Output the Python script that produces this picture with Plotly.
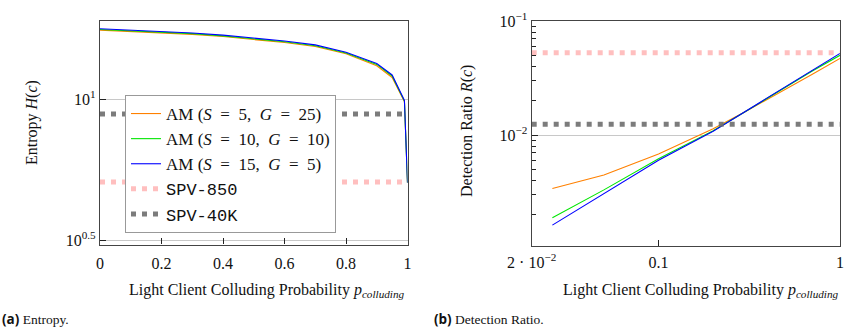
import plotly.graph_objects as go

# ---------------- data ----------------
# (a) Entropy
p_entropy = [0.0, 0.1, 0.2, 0.3, 0.4, 0.5, 0.6, 0.7, 0.8, 0.9, 0.95, 0.99, 1.0]
H_s5_g25 = [17.6, 17.4, 17.25, 17.0, 16.7, 16.3, 15.9, 15.4, 14.5, 13.15, 11.95, 9.8, 5.05]
H_s10_g10 = [17.7, 17.5, 17.38, 17.1, 16.8, 16.4, 16.0, 15.5, 14.6, 13.3, 12.1, 9.85, 5.05]
H_s15_g5 = [17.8, 17.6, 17.45, 17.2, 16.9, 16.5, 16.1, 15.6, 14.7, 13.4, 12.2, 9.9, 5.05]
H_spv850 = 5.08
H_spv40k = 8.87

# (b) Detection ratio
p_detect = [0.026, 0.05, 0.1, 0.2, 0.3, 0.5, 0.7, 1.0]
R_s5_g25 = [3.4e-3, 4.45e-3, 6.8e-3, 1.135e-2, 1.6e-2, 2.5e-2, 3.4e-2, 4.7e-2]
R_s10_g10 = [1.88e-3, 3.3e-3, 6.2e-3, 1.09e-2, 1.6e-2, 2.62e-2, 3.62e-2, 5.0e-2]
R_s15_g5 = [1.62e-3, 3.05e-3, 6.0e-3, 1.08e-2, 1.61e-2, 2.66e-2, 3.72e-2, 5.2e-2]
R_spv850 = 0.0527
R_spv40k = 0.0124

series_names = ["AM&nbsp;(<i>S</i>&nbsp;&nbsp;=&nbsp;&nbsp;5,&nbsp;&nbsp;<i>G</i>&nbsp;&nbsp;=&nbsp;&nbsp;25)",
                "AM&nbsp;(<i>S</i>&nbsp;&nbsp;=&nbsp;&nbsp;10,&nbsp;&nbsp;<i>G</i>&nbsp;&nbsp;=&nbsp;&nbsp;10)",
                "AM&nbsp;(<i>S</i>&nbsp;&nbsp;=&nbsp;&nbsp;15,&nbsp;&nbsp;<i>G</i>&nbsp;&nbsp;=&nbsp;&nbsp;5)"]
spv_names = ["SPV-850", "SPV-40K"]

left_xticks = [0, 0.2, 0.4, 0.6, 0.8, 1]
left_xticktext = ["0", "0.2", "0.4", "0.6", "0.8", "1"]
left_yticks = [10 ** 0.5, 10]
left_yticktext = ["10<sup>0.5</sup>", "10<sup>1</sup>"]
right_xticks = [0.02, 0.1, 1]
right_xticktext = ["2 · 10<sup>−2</sup>", "0.1", "1"]
right_yticks = [0.01, 0.1]
right_yticktext = ["10<sup>−2</sup>", "10<sup>−1</sup>"]
right_yminor = [2e-3, 3e-3, 4e-3, 5e-3, 6e-3, 7e-3, 8e-3, 9e-3,
                2e-2, 3e-2, 4e-2, 5e-2, 6e-2, 7e-2, 8e-2, 9e-2]

# ---------------- styling ----------------
W, H = 850, 328
SERIF = "Liberation Serif"
MONO = "Liberation Mono"
colors = ["rgb(255,128,0)", "rgb(0,230,0)", "rgb(0,0,255)"]
spv_colors = ["rgba(255,170,170,0.75)", "rgba(110,110,110,0.9)"]
DOT = "5px,6px"


def px_x(px):
    return px / W


def px_y(py):
    return 1 - py / H


fig = go.Figure()

# left panel
xs_full = [p_entropy[0], p_entropy[-1]]
for vals, name, c in zip([H_s5_g25, H_s10_g10, H_s15_g5], series_names, colors):
    fig.add_trace(go.Scatter(x=p_entropy, y=vals, mode="lines", name=name,
                             line=dict(color=c, width=1.1), xaxis="x", yaxis="y"))
for val, name, c in zip([H_spv850, H_spv40k], spv_names, spv_colors):
    fig.add_trace(go.Scatter(x=xs_full, y=[val, val], mode="lines",
                             name=f"<span style=\"font-family:{MONO}\">{name}</span>",
                             line=dict(color=c, width=5, dash=DOT), xaxis="x", yaxis="y"))

# right panel
for vals, name, c in zip([R_s5_g25, R_s10_g10, R_s15_g5], series_names, colors):
    fig.add_trace(go.Scatter(x=p_detect, y=vals, mode="lines", name=name, showlegend=False,
                             line=dict(color=c, width=1.1), xaxis="x2", yaxis="y2"))
for val, name, c in zip([R_spv850, R_spv40k], spv_names, spv_colors):
    fig.add_trace(go.Scatter(x=[0.02, 1.0], y=[val, val], mode="lines", name=name, showlegend=False,
                             line=dict(color=c, width=5, dash=DOT), xaxis="x2", yaxis="y2"))

axis_common = dict(showline=True, linecolor="#444", linewidth=1.2, mirror=True,
                   ticks="inside", ticklen=6, tickcolor="#222", tickwidth=1,
                   tickfont=dict(family=SERIF, size=16, color="#111"),
                   zeroline=False, tickmode="array", automargin=False)

fig.update_layout(
    width=W, height=H,
    margin=dict(l=0, r=0, t=0, b=0, pad=0, autoexpand=False),
    paper_bgcolor="white", plot_bgcolor="white",
    font=dict(family=SERIF, size=16, color="#111"),
    xaxis=dict(domain=[px_x(100), px_x(407.5)], range=[0, 1], anchor="y",
               tickvals=left_xticks, ticktext=left_xticktext, showgrid=False,
               ticklabelstandoff=4, **axis_common),
    yaxis=dict(domain=[px_y(244.5), px_y(21)], type="log", range=[0.484, 1.278], anchor="x",
               tickvals=left_yticks, ticktext=left_yticktext, showgrid=True,
               gridcolor="#c8c8c8", gridwidth=1, **axis_common),
    xaxis2=dict(domain=[px_x(531.7), px_x(840)], type="log", range=[-1.69897, 0], anchor="y2",
                tickvals=right_xticks, ticktext=right_xticktext, showgrid=False,
                ticklabelstandoff=2, **axis_common),
    yaxis2=dict(domain=[px_y(245.7), px_y(21)], type="log", range=[-2.971, -1], anchor="x2",
                tickvals=right_yticks, ticktext=right_yticktext, showgrid=True,
                gridcolor="#c8c8c8", gridwidth=1,
                minor=dict(ticks="inside", ticklen=4, tickcolor="#222", tickvals=right_yminor,
                           showgrid=False),
                **axis_common),
    legend=dict(x=px_x(125), y=px_y(95), xanchor="left", yanchor="top",
                bgcolor="white", bordercolor="#999", borderwidth=1,
                font=dict(family=SERIF, size=17, color="#111"),
                tracegroupgap=0, itemwidth=30),
    showlegend=True,
)

ann_common = dict(showarrow=False, xref="paper", yref="paper",
                  xanchor="center", yanchor="middle")
ann = []
ann.append(dict(text="Entropy <i>H</i>(<i>c</i>)", x=px_x(32), y=px_y(122), textangle=-90,
                font=dict(family=SERIF, size=16), **ann_common))
ann.append(dict(text="Detection Ratio <i>R</i>(<i>c</i>)", x=px_x(467), y=px_y(131), textangle=-90,
                font=dict(family=SERIF, size=16), **ann_common))
xtitle = "Light Client Colluding Probability <i>p</i><sub><i>colluding</i></sub>"
ann.append(dict(text=xtitle, x=px_x(267), y=px_y(290),
                font=dict(family=SERIF, size=16), **ann_common))
ann.append(dict(text=xtitle, x=px_x(701), y=px_y(290),
                font=dict(family=SERIF, size=16), **ann_common))
cap_common = dict(showarrow=False, xref="paper", yref="paper", xanchor="left", yanchor="middle")
ann.append(dict(text="<b><span style=\"font-family:'Open Sans'\">(a)</span></b> Entropy.",
                x=0, y=px_y(319), font=dict(family=SERIF, size=13.5), **cap_common))
ann.append(dict(text="<b><span style=\"font-family:'Open Sans'\">(b)</span></b> Detection Ratio.",
                x=px_x(432), y=px_y(319), font=dict(family=SERIF, size=13.5), **cap_common))
fig.update_layout(annotations=ann)

fig.write_html(
    "out.html",
    config={"displayModeBar": False},
    post_script="document.body.style.margin='0';document.body.style.overflow='hidden';",
)
